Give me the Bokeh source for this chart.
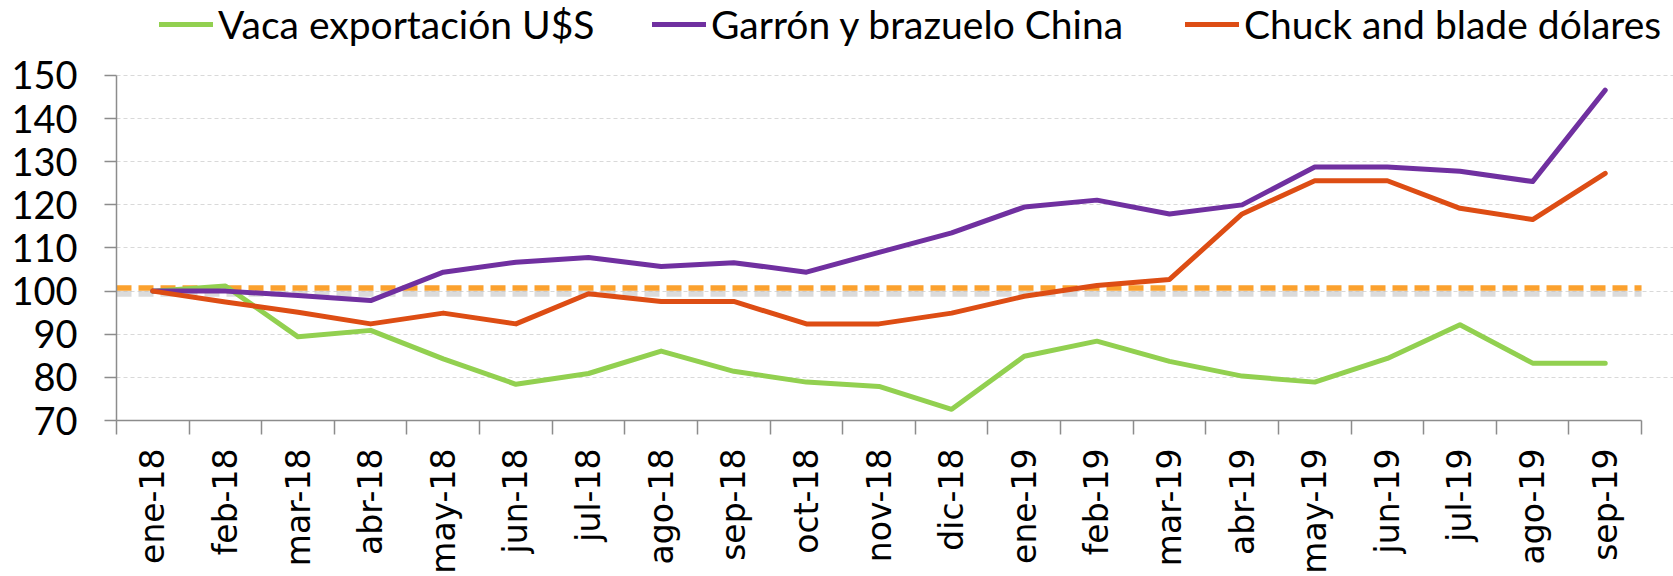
from math import pi
from bokeh.plotting import figure
from bokeh.models import Range1d, FixedTicker, Legend, LegendItem
from bokeh.embed import file_html
from bokeh.resources import INLINE

months = ["ene-18", "feb-18", "mar-18", "abr-18", "may-18", "jun-18", "jul-18",
          "ago-18", "sep-18", "oct-18", "nov-18", "dic-18", "ene-19", "feb-19",
          "mar-19", "abr-19", "may-19", "jun-19", "jul-19", "ago-19", "sep-19"]
vaca = [100, 101.2, 89.4, 90.9, 84.3, 78.4, 80.9, 86.1, 81.4, 78.9, 77.9,
        72.6, 84.9, 88.4, 83.7, 80.3, 78.9, 84.4, 92.2, 83.3, 83.3]
garron = [100, 100, 99.0, 97.8, 104.4, 106.7, 107.8, 105.7, 106.6, 104.4, 109.0,
          113.5, 119.5, 121.1, 117.9, 120.0, 128.8, 128.8, 127.8, 125.4, 146.6]
chuck = [100, 97.5, 95.1, 92.4, 94.9, 92.4, 99.4, 97.6, 97.6, 92.4, 92.4,
         94.9, 98.8, 101.3, 102.7, 117.9, 125.6, 125.6, 119.2, 116.6, 127.3]
baseline = 100.7
y_ticks = [70, 80, 90, 100, 110, 120, 130, 140, 150]
names = ["Vaca exportación U$S", "Garrón y brazuelo China", "Chuck and blade dólares"]
colors = ["#92D050", "#7030A0", "#DD4D14"]

n = len(months)
x = list(range(n))
x_lo, x_hi = -0.5, n - 0.5

p = figure(width=1673, height=576, output_backend="svg", toolbar_location=None,
           x_range=Range1d(x_lo, x_hi + 0.44), y_range=Range1d(70, 167.39),
           min_border_left=116, min_border_right=0, min_border_top=0, min_border_bottom=156)
p.outline_line_color = None
p.background_fill_color = "white"
p.border_fill_color = "white"

# reference line with a soft shadow
p.line([x_lo, x_hi], [baseline - 1.3, baseline - 1.3], line_color="#bdbdbd",
       line_alpha=0.55, line_width=6, line_dash="15 7")
p.line([x_lo, x_hi], [baseline, baseline], line_color="#FBA12E",
       line_width=5.5, line_dash="15 7")

rends = []
for vals, c in zip([vaca, garron, chuck], colors):
    r = p.line(x, vals, line_color=c, line_width=5, line_join="round", line_cap="round")
    rends.append(r)

# axes
xa = p.xaxis[0]
xa.ticker = FixedTicker(ticks=x, minor_ticks=[i - 0.5 for i in range(n + 1)])
xa.bounds = (x_lo, x_hi)
xa.major_label_overrides = {i: m for i, m in enumerate(months)}
xa.major_label_orientation = pi / 2
xa.major_tick_out = 0
xa.major_tick_in = 0
xa.minor_tick_out = 14
xa.minor_tick_in = 0
xa.minor_tick_line_color = "#8c8c8c"
xa.minor_tick_line_width = 1.5
xa.axis_line_color = "#8c8c8c"
xa.axis_line_width = 1.5
xa.major_label_text_font = "DejaVu Sans"
xa.major_label_text_font_size = "33px"
xa.major_label_text_color = "black"
xa.major_label_standoff = 14

ya = p.yaxis[0]
ya.ticker = FixedTicker(ticks=y_ticks)
ya.bounds = (70, 150)
ya.major_tick_out = 12
ya.major_tick_in = 0
ya.minor_tick_out = 0
ya.minor_tick_in = 0
ya.major_tick_line_color = "#8c8c8c"
ya.major_tick_line_width = 1.5
ya.axis_line_color = "#8c8c8c"
ya.axis_line_width = 1.5
ya.major_label_text_font = "Lato"
ya.major_label_text_font_size = "38px"
ya.major_label_text_color = "black"
ya.major_label_standoff = 27

p.xgrid.visible = False
p.ygrid.ticker = FixedTicker(ticks=y_ticks)
p.ygrid.bounds = (x_lo, x_hi)
p.ygrid.grid_line_color = "#d9d9d9"
p.ygrid.grid_line_dash = "4 3"
p.ygrid.grid_line_width = 1.2

legend_x = [43, 536, 1069]
for name, r, lx in zip(names, rends, legend_x):
    leg = Legend(items=[LegendItem(label=name, renderers=[r])], location=(lx, 373),
                 orientation="horizontal", label_text_font="Lato",
                 label_text_font_size="39px", label_text_color="black",
                 glyph_width=54, glyph_height=20, label_standoff=5,
                 padding=0, margin=0, spacing=0, border_line_color=None,
                 background_fill_alpha=0)
    p.add_layout(leg)

open("out.html", "w").write(file_html(p, INLINE))
